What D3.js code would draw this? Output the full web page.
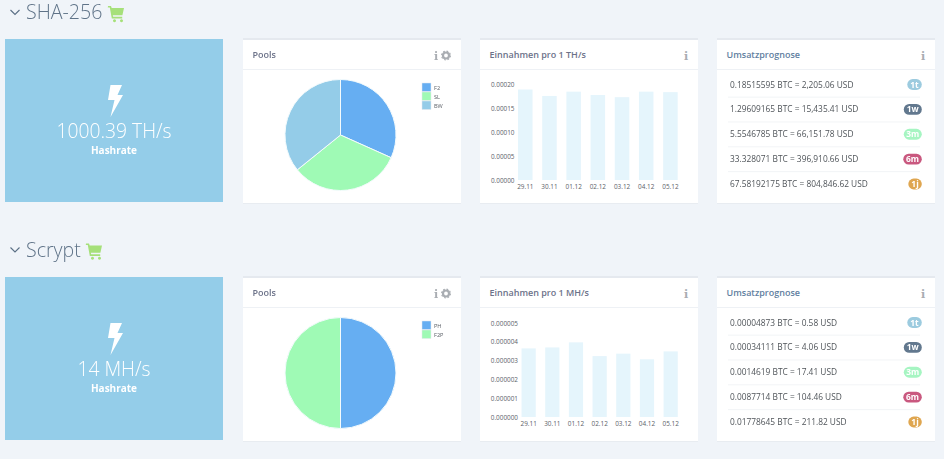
<!DOCTYPE html>
<html lang="de">
<head>
<meta charset="UTF-8">
<title>Hashrate Dashboard</title>
<script src="https://d3js.org/d3.v7.min.js"></script>
<style>
html, body { margin: 0; padding: 0; background: #f0f4f9; overflow: hidden; }
svg { display: block; font-family: 'Open Sans', sans-serif; filter: blur(0.5px); }
.tick line, .domain { display: none; }
.tick text { font-family: 'Open Sans', sans-serif; font-size: 6.4px; fill: #5c6168; }
</style>
</head>
<body>
<svg id="chart" width="944" height="459"></svg>
<script>
// chart values
const days = ["29.11", "30.11", "01.12", "02.12", "03.12", "04.12", "05.12"];

const shaPools = ["F2", "SL", "BW"];
const shaPoolShares = [31.7, 32.5, 35.8];
const shaIncome = [0.0001895, 0.000176, 0.000185, 0.000178, 0.0001735, 0.000185, 0.000184];
const shaTicks = [0, 0.00005, 0.0001, 0.00015, 0.0002];
const shaForecast = [
    "0.18515595 BTC = 2,205.06 USD",
    "1.29609165 BTC = 15,435.41 USD",
    "5.5546785 BTC = 66,151.78 USD",
    "33.328071 BTC = 396,910.66 USD",
    "67.58192175 BTC = 804,846.62 USD"
];

const scryptPools = ["PH", "F2P"];
const scryptPoolShares = [50, 50];
const scryptIncome = [0.00000365, 0.0000037, 0.00000397, 0.00000324, 0.00000337, 0.00000307, 0.00000349];
const scryptTicks = [0, 0.000001, 0.000002, 0.000003, 0.000004, 0.000005];
const scryptForecast = [
    "0.00004873 BTC = 0.58 USD",
    "0.00034111 BTC = 4.06 USD",
    "0.0014619 BTC = 17.41 USD",
    "0.0087714 BTC = 104.46 USD",
    "0.01778645 BTC = 211.82 USD"
];

const periods = ["1t", "1w", "3m", "6m", "1j"];
const periodColors = ["#9ccbdf", "#62788e", "#a6f5c2", "#c9587f", "#dfa650"];
const poolColors = ["#66aef2", "#9ffab5", "#94cce8"];

const svg = d3.select("#chart");

function card(g, x, y, title, titleColor) {
    g.append("rect").attr("x", x).attr("y", y - 2).attr("width", 218).attr("height", 2).attr("fill", "#e5e9ef");
    g.append("rect").attr("x", x).attr("y", y).attr("width", 218).attr("height", 163).attr("fill", "#fff");
    g.append("rect").attr("x", x).attr("y", y + 163).attr("width", 218).attr("height", 1).attr("fill", "#e8ecf1");
    g.append("rect").attr("x", x).attr("y", y + 29).attr("width", 218).attr("height", 1).attr("fill", "#eef1f5");
    g.append("text").attr("x", x + 9.5).attr("y", y + 18).text(title)
        .attr("font-size", 9).attr("font-weight", 600).attr("fill", titleColor);
}

function infoIcon(g, x, y) {
    g.append("text").attr("x", x).attr("y", y).text("i").attr("text-anchor", "middle")
        .attr("font-family", "'DejaVu Serif'")
        .attr("font-size", 11).attr("font-weight", 700).attr("fill", "#a9adb2");
}

function gearIcon(g, x, y) {
    g.append("circle").attr("cx", x).attr("cy", y).attr("r", 3)
        .attr("fill", "none").attr("stroke", "#a9adb2").attr("stroke-width", 2.2);
    g.append("circle").attr("cx", x).attr("cy", y).attr("r", 4.4)
        .attr("fill", "none").attr("stroke", "#a9adb2").attr("stroke-width", 1.2)
        .attr("stroke-dasharray", "1.73 1.73");
}

function drawSection(s) {
    const g = svg.append("g");
    const top = s.top;

    // heading
    g.append("path").attr("d", `M10.5 ${s.headY - 3}l4.5 4.5l4.5 -4.5`)
        .attr("fill", "none").attr("stroke", "#5a6f85").attr("stroke-width", 1.1);
    g.append("text").attr("x", 26).attr("y", s.headY + 6).text(s.name)
        .attr("font-size", 19.6).attr("font-weight", 300).attr("fill", "#5f7388");
    g.append("path")
        .attr("transform", `translate(${s.cartX},${s.headY - 7})`)
        .attr("fill", "#a6e07a")
        .attr("d", "M0 0h3l.7 2h12.3l-1.6 7.2h-9.6l.4 1.6h9v1.6h-10.4l-2 -10.8h-2zM6.5 13.2a1.5 1.5 0 1 0 .01 0zM13.5 13.2a1.5 1.5 0 1 0 .01 0z");

    // hashrate tile
    g.append("rect").attr("x", 5).attr("y", top - 1).attr("width", 218).attr("height", 163).attr("fill", "#94cde9");
    g.append("path")
        .attr("transform", `translate(105.5,${top + 45})`)
        .attr("fill", "#fff")
        .attr("d", "M5 0h11.5l-4.5 10h5.5l-12.5 22l4 -17h-6.5z");
    g.append("text").attr("x", 114).attr("y", top + 98).text(s.rate).attr("text-anchor", "middle")
        .attr("font-size", 19.3).attr("font-weight", 300).attr("fill", "#fff");
    g.append("text").attr("x", 114).attr("y", top + 114).text("Hashrate").attr("text-anchor", "middle")
        .attr("font-size", 10).attr("font-weight", 700).attr("fill", "#fff");

    // pools
    card(g, 243, top, "Pools", "#6c7289");
    infoIcon(g, 436, top + 19.5);
    gearIcon(g, 446, top + 15.5);
    const pie = d3.pie().sort(null);
    const arc = d3.arc().innerRadius(0).outerRadius(55.5);
    g.append("g").attr("transform", `translate(340.5,${top + 95})`)
        .selectAll("path").data(pie(s.shares)).join("path")
        .attr("d", arc).attr("fill", (d, i) => poolColors[i])
        .attr("stroke", "#f4fbfd").attr("stroke-width", 1);
    const legend = g.append("g").selectAll("g").data(s.pools).join("g")
        .attr("transform", (d, i) => `translate(422,${top + 43 + i * 9})`);
    legend.append("rect").attr("width", 9).attr("height", 8.5)
        .attr("fill", (d, i) => poolColors[i]).attr("stroke", "#e4e8ee").attr("stroke-width", 0.5);
    legend.append("text").attr("x", 12).attr("y", 6.5).text(d => d)
        .attr("font-size", 5.6).attr("fill", "#5c6168");

    // income bars
    card(g, 480, top, s.incomeTitle, "#6c7289");
    infoIcon(g, 686, top + 19.5);
    const x = d3.scaleBand().domain(days).range(s.xRange).paddingInner(0.4).paddingOuter(0.2);
    const y = d3.scaleLinear().domain(d3.extent(s.ticks)).range([top + s.y0, top + s.y1]);
    g.append("g").selectAll("rect").data(s.income).join("rect")
        .attr("x", (d, i) => x(days[i])).attr("width", x.bandwidth())
        .attr("y", d => y(d)).attr("height", d => y(0) - y(d))
        .attr("fill", "#e5f5fc");
    g.append("g").attr("transform", `translate(${s.axisX},0)`)
        .call(d3.axisLeft(y).tickValues(s.ticks).tickFormat(d3.format(s.fmt)).tickSize(0).tickPadding(0));
    g.append("g").attr("transform", `translate(0,${top + s.y0 + 2})`)
        .call(d3.axisBottom(x).tickSize(0).tickPadding(2));

    // forecast list
    card(g, 717, top, "Umsatzprognose", "#5f80a0");
    infoIcon(g, 923, top + 19.5);
    const rowY = d3.scalePoint().domain(d3.range(5)).range([top + 44.5, top + 144]);
    const rows = g.append("g").selectAll("g").data(s.forecast).join("g")
        .attr("transform", (d, i) => `translate(0,${rowY(i)})`);
    rows.filter((d, i) => i < 4).append("rect")
        .attr("x", 728).attr("y", 12.2).attr("width", 192).attr("height", 0.8).attr("fill", "#eef1f4");
    rows.append("text").attr("x", 730).attr("y", 3).text(d => d)
        .attr("font-size", 8.35).attr("fill", "#4f5459");
    const badgeW = [14.5, 18, 18, 18.5, 13.5];
    rows.append("rect")
        .attr("x", (d, i) => 921.8 - badgeW[i]).attr("y", -5.4)
        .attr("width", (d, i) => badgeW[i]).attr("height", 10.8).attr("rx", 5.4)
        .attr("fill", (d, i) => periodColors[i]);
    rows.append("text")
        .attr("x", (d, i) => 921.8 - badgeW[i] / 2).attr("y", 3).attr("text-anchor", "middle")
        .text((d, i) => periods[i])
        .attr("font-size", 8.4).attr("font-weight", 700).attr("fill", "#fff");
}

drawSection({
    name: "SHA-256", top: 40, headY: 13, cartX: 108, rate: "1000.39 TH/s",
    pools: shaPools, shares: shaPoolShares,
    incomeTitle: "Einnahmen pro 1 TH/s", income: shaIncome, ticks: shaTicks, fmt: ".5f",
    xRange: [513.2, 682.5], axisX: 514.5, y0: 140, y1: 44.5,
    forecast: shaForecast
});

drawSection({
    name: "Scrypt", top: 278, headY: 250.5, cartX: 86, rate: "14 MH/s",
    pools: scryptPools, shares: scryptPoolShares,
    incomeTitle: "Einnahmen pro 1 MH/s", income: scryptIncome, ticks: scryptTicks, fmt: ".6f",
    xRange: [516.8, 682.5], axisX: 518, y0: 139, y1: 45,
    forecast: scryptForecast
});
</script>
</body>
</html>
